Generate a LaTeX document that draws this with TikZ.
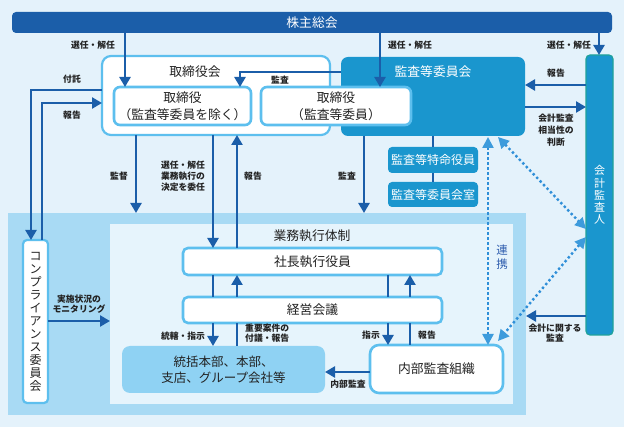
\documentclass[tikz,border=0pt]{standalone}
\usepackage{fontspec}
\setmainfont{Noto Sans CJK JP}
\usetikzlibrary{arrows.meta,calc}
\definecolor{bgc}{HTML}{E4F2FB}
\definecolor{dblue}{HTML}{1B5EA9}
\definecolor{mblue}{HTML}{1A96CE}
\definecolor{lblue}{HTML}{5DBFEE}
\definecolor{execo}{HTML}{A8DAF4}
\definecolor{execi}{HTML}{E6F4FC}
\definecolor{hqc}{HTML}{8FD2F3}
\definecolor{tealc}{HTML}{1FA29A}
\definecolor{dotc}{HTML}{2F8FD8}
\definecolor{dottip}{HTML}{3D9BDC}
\definecolor{renc}{HTML}{2E5DAE}
\definecolor{txt}{HTML}{222222}
\tikzset{
  arr/.style={draw=dblue, line width=2.4pt, -{Triangle[width=11pt,length=10pt]}},
  plain/.style={draw=dblue, line width=2.4pt},
  lbl/.style={font=\bfseries\fontsize{8.8}{10.5}\selectfont, text=txt, align=center, inner sep=0pt},
  wbox/.style={draw=lblue, line width=2.6pt, fill=white, rounded corners=6pt, inner sep=0pt, outer sep=0pt,
    align=center, text=txt, font=\fontsize{12.8}{17}\selectfont},
  bbox/.style={fill=mblue, rounded corners=4pt, inner sep=0pt, outer sep=0pt, align=center, text=white,
    font=\fontsize{12}{14}\selectfont},
  area/.style={inner sep=0pt, outer sep=0pt},
  dotarr/.style={draw=dotc, line width=2.4pt, dash pattern=on 2.4pt off 2.6pt,
    {Triangle[width=11pt,length=11pt,color=dottip]}-{Triangle[width=11pt,length=11pt,color=dottip]}},
  ttl/.style={font=\fontsize{12.8}{14}\selectfont, text=txt, inner sep=0pt}
}
\begin{document}
\begin{tikzpicture}[x=1pt,y=-1pt]
\useasboundingbox (0,0) rectangle (624,427);
\fill[bgc] (0,0) rectangle (624,427);

% execution areas
\node[area, fill=execo, minimum width=518, minimum height=202] (execo) at (267,314) {};
\node[area, fill=execi, minimum width=403, minimum height=180] (execi) at (311.5,314) {};
\node[ttl] (exect) at (312,236) {業務執行体制};

% shareholders
\node[area, fill=dblue, rounded corners=4pt, minimum width=600, minimum height=21,
  text=white, font=\fontsize{12.8}{14}\selectfont] (bar) at (312,22.5) {株主総会};

% board
\node[wbox, line width=2.2pt, rounded corners=9pt, minimum width=228, minimum height=79] (board) at (216,95.5) {};
\node[ttl] (boardt) at (195,72) {取締役会};

% audit committee
\node[bbox, rounded corners=7pt, minimum width=184, minimum height=79] (acb) at (433,96.5) {};
\node[ttl, text=white] (acbt) at (433,72) {監査等委員会};

% directors
\node[wbox, minimum width=137, minimum height=38] (d1) at (182.5,106) {取締役\\（監査等委員を除く）};
\node[wbox, minimum width=150, minimum height=38] (d2) at (336,106) {取締役\\（監査等委員）};

% special officers
\node[bbox, minimum width=90, minimum height=26] (tok) at (433,160) {監査等特命役員};
\node[bbox, minimum width=90, minimum height=25] (acr) at (433,194.5) {監査等委員会室};

% accounting auditor
\node[bbox, draw=tealc, line width=1.2pt, minimum width=27, minimum height=280,
  font=\fontsize{11}{12.2}\selectfont] (aud) at (599.5,195) {会\\計\\監\\査\\人};

% compliance
\node[wbox, line width=2.2pt, rounded corners=4pt, minimum width=25, minimum height=163,
  font=\fontsize{12}{13}\selectfont] (comp) at (35.5,321.5) {コ\\ン\\プ\\ラ\\イ\\ア\\ン\\ス\\委\\員\\会};

% execution boxes
\node[wbox, rounded corners=5pt, minimum width=259, minimum height=27] (pres) at (312.5,261.5) {社長執行役員};
\node[wbox, rounded corners=5pt, minimum width=259, minimum height=26] (mgmt) at (312.5,310) {経営会議};
\node[area, fill=hqc, rounded corners=8pt, minimum width=203, minimum height=47, align=center,
  text=txt, font=\fontsize{12.5}{16}\selectfont] (hq) at (223.5,369.5) {統括本部、本部、\\支店、グループ会社等};
\node[wbox, rounded corners=9pt, minimum width=133, minimum height=48] (iao) at (436.5,369) {内部監査組織};

% helper coordinates
\coordinate (X31) at (31,0);
\coordinate (X42) at (42,0);
\coordinate (X125) at (125,0);
\coordinate (X136) at (136,0);
\coordinate (X213) at (213,0);
\coordinate (X237) at (237,0);
\coordinate (X240) at (240,0);
\coordinate (X364) at (364,0);
\coordinate (X380) at (380,0);
\coordinate (X388) at (388,0);
\coordinate (X410) at (410,0);
\coordinate (X433) at (433,0);
\coordinate (X488) at (488,0);
\coordinate (X498) at (498,0);
\coordinate (X599) at (599,0);
\coordinate (Y85) at (0,85);
\coordinate (Y90) at (0,90);
\coordinate (Y103) at (0,103);
\coordinate (Y107) at (0,107);
\coordinate (Y229) at (0,229);
\coordinate (Y237) at (0,237);
\coordinate (Y316) at (0,316);
\coordinate (Y321) at (0,321);
\coordinate (Y372) at (0,372);
\coordinate (Y137) at (0,137);
\coordinate (Y341) at (0,341);

% connectors from shareholders
\draw[arr] (bar.south -| X125) -- (d1.north -| X125);
\draw[arr] (bar.south -| X380) -- (d2.north -| X380);
\draw[arr] (bar.south -| X599) -- (aud.north -| X599);

% audit to d1
\draw[arr] (acb.west |- acbt) -| (d1.north -| X240);

% auditor <-> audit committee
\draw[arr] (aud.west |- Y85) -- (acb.east |- Y85);
\draw[arr] (acb.east |- Y107) -- (aud.west |- Y107);

% compliance
\draw[arr] (board.west |- Y90) -| (comp.north -| X31);
\draw[arr] (comp.north -| X42) |- (board.west |- Y103);
\draw[arr] (comp.east |- Y321) -- (execi.west |- Y321);

% board to execution
\draw[arr] (board.south -| X136) -- (execo.north -| X136);
\draw[arr] (board.south -| X213) -- (pres.north -| X213);
\draw[arr] (pres.north -| X237) -- (board.south -| X237);
\draw[arr] (acb.south -| X364) -- (execo.north -| X364);

% special officers chain
\draw[dblue, line width=1.8pt] (acb.south -| X433) -- (tok.north -| X433);
\draw[dblue, line width=1.8pt] (tok.south -| X433) -- (acr.north -| X433);

% president / management / hq
\draw[plain] (pres.south -| X213) -- (mgmt.north -| X213);
\draw[arr] (mgmt.south -| X213) -- (hq.north -| X213);
\draw[plain] (hq.north -| X237) -- (mgmt.south -| X237);
\draw[arr] (mgmt.north -| X237) -- (pres.south -| X237);

% president / management / internal audit
\draw[plain] (pres.south -| X388) -- (mgmt.north -| X388);
\draw[arr] (mgmt.south -| X388) -- (iao.north -| X388);
\draw[plain] (iao.north -| X410) -- (mgmt.south -| X410);
\draw[arr] (mgmt.north -| X410) -- (pres.south -| X410);

% internal audit -> hq
\draw[arr] (iao.west |- Y372) -- (hq.east |- Y372);

% accounting audit -> execution
\draw[arr] (aud.west |- Y316) -- (execo.east |- Y316);

% cooperation dotted
\draw[dotarr] (X488 |- Y137) -- (iao.north -| X488);
\draw[dotarr] (X498 |- Y137) -- (aud.west |- Y229);
\draw[dotarr] (aud.west |- Y237) -- (X498 |- Y341);
\node[font=\fontsize{11.5}{13.5}\selectfont, text=renc, align=center, inner sep=0pt] (ren) at (502,257) {連\\携};

% labels
\node[lbl] (l1) at (93,45) {選任・解任};
\node[lbl] (l2) at (410,45) {選任・解任};
\node[lbl] (l3) at (569,45) {選任・解任};
\node[lbl] (l4) at (72,79) {付託};
\node[lbl] (l5) at (72,115) {報告};
\node[lbl] (l6) at (280,80) {監査};
\node[lbl] (l7) at (556,73) {報告};
\node[lbl, font=\bfseries\fontsize{8.8}{12}\selectfont] (l8) at (556,130) {会計監査\\相当性の\\判断};
\node[lbl] (l9) at (119,176) {監督};
\node[lbl, font=\bfseries\fontsize{8.8}{11}\selectfont] (l10) at (183,176) {選任・解任\\業務執行の\\決定を委任};
\node[lbl] (l11) at (253,176) {報告};
\node[lbl] (l12) at (347,176) {監査};
\node[lbl] (l13) at (79,304) {実施状況の\\モニタリング};
\node[lbl] (l14) at (183,336) {統轄・指示};
\node[lbl, align=left, anchor=west, font=\bfseries\fontsize{8.8}{10}\selectfont] (l15) at (245,333) {重要案件の\\付議・報告};
\node[lbl] (l16) at (371,335) {指示};
\node[lbl] (l17) at (427,335) {報告};
\node[lbl] (l18) at (348,384) {内部監査};
\node[lbl] (l19) at (555,333) {会計に関する\\監査};
\end{tikzpicture}
\end{document}
